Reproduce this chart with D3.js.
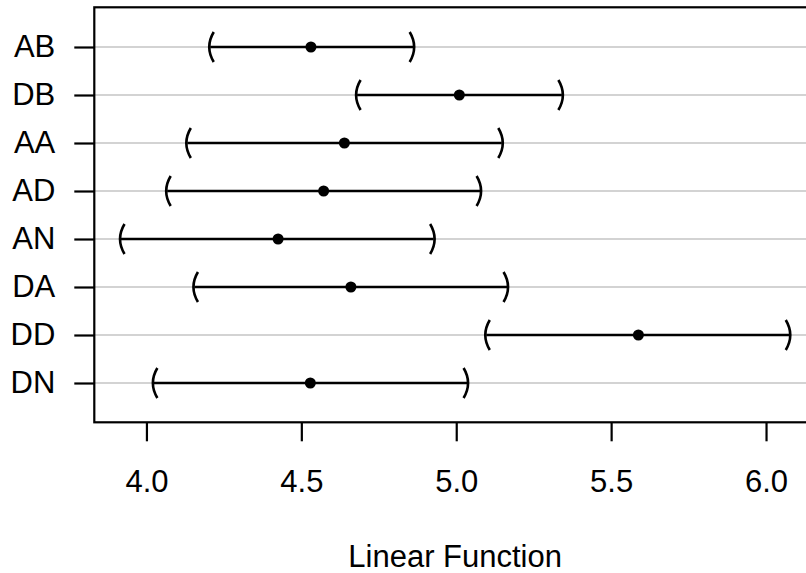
<!DOCTYPE html>
<html>
<head lang="en">
    <meta charset="UTF-8">
    <title>Linear Function intervals</title>
    <script src="https://cdnjs.cloudflare.com/ajax/libs/d3/7.8.5/d3.min.js"></script>
    <style>
        body { margin: 0; background: #fff; }
        text { font-family: "Liberation Sans", Arial, sans-serif; fill: #000; }
    </style>
</head>
<body>
<script>

    // rows, top to bottom
    var groups = ["AB", "DB", "AA", "AD", "AN", "DA", "DD", "DN"];
    var estimate = [4.531, 5.010, 4.639, 4.572, 4.425, 4.660, 5.588, 4.529];
    var lower    = [4.206, 4.680, 4.132, 4.067, 3.918, 4.155, 5.097, 4.024];
    var upper    = [4.861, 5.341, 5.147, 5.077, 4.927, 5.164, 6.075, 5.035];
    var xTicks   = [4.0, 4.5, 5.0, 5.5, 6.0];
    var xLabel   = "Linear Function";

    var width = 806,
        height = 573;

    // plot region (right edge runs past the window, as in the original)
    var pLeft = 94.3, pTop = 7.3, pRight = 816, pBottom = 422.3;

    var rows = groups.map(function(g, i) {
        return {g: g, est: estimate[i], lo: lower[i], hi: upper[i]};
    });

    // R-style 4% extension of the data range
    var lo = d3.min(lower), hi = d3.max(upper), ext = (hi - lo) * 0.04;
    var x = d3.scaleLinear().domain([lo - ext, hi + ext]).range([pLeft, pRight]);
    var y = d3.scalePoint().domain(groups).range([47, 383]);

    var svg = d3.select("body").append("svg")
            .attr("width", width)
            .attr("height", height);

    // grid lines
    svg.append("g").selectAll("line")
            .data(groups)
            .enter().append("line")
            .attr("x1", pLeft).attr("x2", pRight)
            .attr("y1", function(d) { return y(d); })
            .attr("y2", function(d) { return y(d); })
            .attr("stroke", "#d3d3d3")
            .attr("stroke-width", 2);

    // interval lines
    var marks = svg.append("g");
    marks.selectAll("line.ci")
            .data(rows)
            .enter().append("line")
            .attr("class", "ci")
            .attr("x1", function(d) { return x(d.lo); })
            .attr("x2", function(d) { return x(d.hi); })
            .attr("y1", function(d) { return y(d.g); })
            .attr("y2", function(d) { return y(d.g); })
            .attr("stroke", "#000")
            .attr("stroke-width", 2.4);

    // brackets "(" and ")"
    function bracket(px, py, dir) {
        // dir = 1 for "(", -1 for ")"
        var b = 4.5 * dir;
        return "M" + (px + b) + "," + (py - 15) +
               "Q" + (px - b) + "," + py + " " + (px + b) + "," + (py + 15);
    }
    marks.selectAll("path.lo")
            .data(rows)
            .enter().append("path")
            .attr("class", "lo")
            .attr("d", function(d) { return bracket(x(d.lo) - 1, y(d.g), 1); })
            .attr("fill", "none").attr("stroke", "#000").attr("stroke-width", 2.6);
    marks.selectAll("path.hi")
            .data(rows)
            .enter().append("path")
            .attr("class", "hi")
            .attr("d", function(d) { return bracket(x(d.hi) + 1, y(d.g), -1); })
            .attr("fill", "none").attr("stroke", "#000").attr("stroke-width", 2.6);

    // point estimates
    marks.selectAll("circle")
            .data(rows)
            .enter().append("circle")
            .attr("cx", function(d) { return x(d.est); })
            .attr("cy", function(d) { return y(d.g); })
            .attr("r", 5.5)
            .attr("fill", "#000");

    // box
    svg.append("rect")
            .attr("x", pLeft).attr("y", pTop)
            .attr("width", pRight - pLeft).attr("height", pBottom - pTop)
            .attr("fill", "none")
            .attr("stroke", "#000")
            .attr("stroke-width", 2.2);

    // x axis
    var xAxis = svg.append("g")
            .attr("transform", "translate(0," + pBottom + ")")
            .call(d3.axisBottom(x).tickValues(xTicks).tickFormat(d3.format(".1f"))
                    .tickSize(19).tickPadding(29));
    xAxis.select(".domain").remove();
    xAxis.selectAll("line").attr("stroke-width", 2.2);
    xAxis.selectAll("text").style("font-size", "31px").attr("fill", "#000");

    // y axis
    var yAxis = svg.append("g")
            .attr("transform", "translate(" + pLeft + ",0)")
            .call(d3.axisLeft(y).tickSize(20).tickPadding(19));
    yAxis.select(".domain").remove();
    yAxis.selectAll("line").attr("stroke-width", 2.2);
    yAxis.selectAll("text").style("font-size", "31px").attr("fill", "#000");

    // axis title
    svg.append("text")
            .attr("x", (pLeft + pRight) / 2)
            .attr("y", 566.5)
            .attr("text-anchor", "middle")
            .style("font-size", "31px")
            .text(xLabel);

</script>
</body>
</html>
